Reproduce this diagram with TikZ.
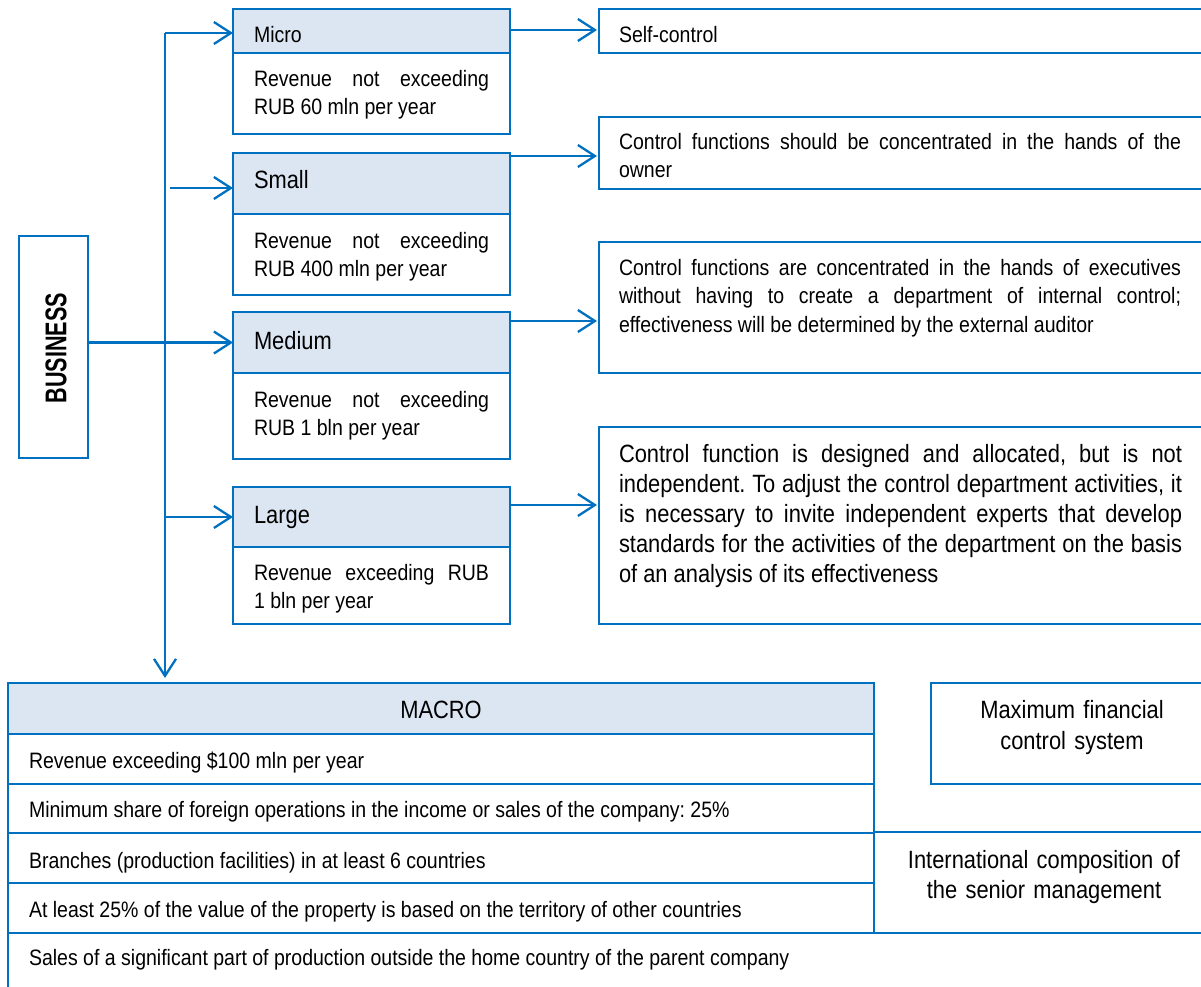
\documentclass[tikz,border=0pt]{standalone}
\usepackage{fontspec}
\setmainfont{Liberation Sans}[FakeStretch=0.875]
\newfontfamily\bizfont{Liberation Sans}[FakeStretch=0.72]
\usetikzlibrary{arrows.meta}
\definecolor{lineblue}{RGB}{0,112,192}
\definecolor{headfill}{HTML}{DCE6F2}
\frenchspacing
\tikzset{
  box/.style={draw=lineblue, line width=2.3pt, anchor=north west, inner sep=0pt, outer sep=0pt},
  headbox/.style={box, fill=headfill},
  txt/.style={anchor=base west, inner sep=0pt, outer sep=0pt, align=left, font=\frenchspacing\fontsize{22.3}{28}\selectfont},
  bigtxt/.style={anchor=base west, inner sep=0pt, outer sep=0pt, align=left, font=\frenchspacing\fontsize{25}{30}\selectfont},
  para/.style={align=justify},
  arr/.style={draw=lineblue, line width=2.3pt, -{Straight Barb[length=17pt,width=22pt]}},
}
\newcommand{\jl}[2]{\leavevmode\hbox to #1{\spaceskip=\fontdimen2\font plus 1fil\xspaceskip=\spaceskip\relax #2}}
\begin{document}
\begin{tikzpicture}[x=1pt,y=-1pt]
\useasboundingbox (0,0) rectangle (1201,987);
\clip (0,0) rectangle (1201,987);

% BUSINESS
\node[box, minimum width=69pt, minimum height=222pt] (bus) at (19,236) {};
\node[rotate=90, inner sep=0pt, font=\bizfont\bfseries\fontsize{30}{36}\selectfont] (bust) at (56,348) {BUSINESS};

% left boxes
\node[headbox, minimum width=277pt, minimum height=44pt] (microh) at (233,9) {};
\node[box, minimum width=277pt, minimum height=81pt] (microb) at (233,53) {};
\node[headbox, minimum width=277pt, minimum height=61pt] (smallh) at (233,153) {};
\node[box, minimum width=277pt, minimum height=81pt] (smallb) at (233,214) {};
\node[headbox, minimum width=277pt, minimum height=61pt] (medh) at (233,312) {};
\node[box, minimum width=277pt, minimum height=86pt] (medb) at (233,373) {};
\node[headbox, minimum width=277pt, minimum height=60pt] (largeh) at (233,487) {};
\node[box, minimum width=277pt, minimum height=77pt] (largeb) at (233,547) {};

\node[txt] (microt) at (254,43) {Micro};
\node[txt, para, text width=235pt] (microd) at (254,87) {\jl{235pt}{Revenue not exceeding}\\RUB 60 mln per year};
\node[bigtxt] (smallt) at (254,189) {Small};
\node[txt, para, text width=235pt] (smalld) at (254,248) {\jl{235pt}{Revenue not exceeding}\\RUB 400 mln per year};
\node[bigtxt] (medt) at (254,349) {Medium};
\node[txt, para, text width=235pt] (medd) at (254,407) {\jl{235pt}{Revenue not exceeding}\\RUB 1 bln per year};
\node[bigtxt] (larget) at (254,523) {Large};
\node[txt, para, text width=235pt] (larged) at (254,580) {\jl{235pt}{Revenue exceeding RUB}\\1 bln per year};

% right boxes
\node[box, minimum width=614pt, minimum height=44pt] (selfc) at (599,9) {};
\node[box, minimum width=614pt, minimum height=72pt] (ctrlb) at (599,117) {};
\node[box, minimum width=614pt, minimum height=131pt] (ctrlc) at (599,242) {};
\node[box, minimum width=614pt, minimum height=197pt] (ctrld) at (599,427) {};

\node[txt] (selft) at (619,43) {Self-control};
\node[txt, para, text width=562pt] (ctrlbt) at (619,150) {\jl{562pt}{Control functions should be concentrated in the hands of the}\\owner};
\node[txt, para, text width=562pt, font=\frenchspacing\fontsize{22.3}{28.5}\selectfont] (ctrlct) at (619,275) {\jl{562pt}{Control functions are concentrated in the hands of executives}\\\jl{562pt}{without having to create a department of internal control;}\\effectiveness will be determined by the external auditor};
\node[bigtxt, para, text width=563pt] (ctrldt) at (619,462) {\jl{563pt}{Control function is designed and allocated, but is not}\\\jl{563pt}{independent. To adjust the control department activities, it}\\\jl{563pt}{is necessary to invite independent experts that develop}\\\jl{563pt}{standards for the activities of the department on the basis}\\of an analysis of its effectiveness};

% MACRO table
\node[headbox, minimum width=866pt, minimum height=51pt] (macroh) at (8,683) {};
\node[box, minimum width=866pt, minimum height=50pt] (row1) at (8,734) {};
\node[box, minimum width=866pt, minimum height=49pt] (row2) at (8,784) {};
\node[box, minimum width=866pt, minimum height=50pt] (row3) at (8,833) {};
\node[box, minimum width=866pt, minimum height=50pt] (row4) at (8,883) {};
\node[box, minimum width=1205pt, minimum height=67pt] (row5) at (8,933) {};
\node[box, minimum width=339pt, minimum height=101pt] (intl) at (874,832) {};
\node[box, minimum width=282pt, minimum height=101pt] (maxb) at (931,683) {};

\node[bigtxt, anchor=base] (macrot) at (441,718) {MACRO};
\node[txt] (row1t) at (29,768) {Revenue exceeding \$100 mln per year};
\node[txt] (row2t) at (29,817) {Minimum share of foreign operations in the income or sales of the company: 25\%};
\node[txt] (row3t) at (29,868) {Branches (production facilities) in at least 6 countries};
\node[txt] (row4t) at (29,917) {At least 25\% of the value of the property is based on the territory of other countries};
\node[txt] (row5t) at (29,965) {Sales of a significant part of production outside the home country of the parent company};
\node[bigtxt, anchor=base, text width=280pt, align=center, font=\fontsize{25}{31}\selectfont] (maxt) at (1072,718) {Maximum financial\\control system};
\node[bigtxt, anchor=base, text width=300pt, align=center] (intlt) at (1044,868) {International composition of\\the senior management};

% connectors
\coordinate (ttop) at (165,33);
\draw[arr, shorten >=5pt] (ttop) -- (ttop |- macroh.north);
\draw[arr] (ttop) -- (ttop -| microh.west);
\coordinate (sa) at (170,188);
\draw[arr] (sa) -- (sa -| smallh.west);
\draw[arr] (bus.east |- medh.west) -- (medh.west);
\draw[arr] (ttop |- largeh.west) -- (largeh.west);

\coordinate (ra) at (510,30);
\coordinate (rb) at (510,156);
\coordinate (rc) at (510,321);
\coordinate (rd) at (510,505);
\draw[arr, shorten >=2pt] (ra) -- (ra -| selfc.west);
\draw[arr, shorten >=2pt] (rb) -- (rb -| ctrlb.west);
\draw[arr, shorten >=2pt] (rc) -- (rc -| ctrlc.west);
\draw[arr, shorten >=2pt] (rd) -- (rd -| ctrld.west);
\end{tikzpicture}
\end{document}
